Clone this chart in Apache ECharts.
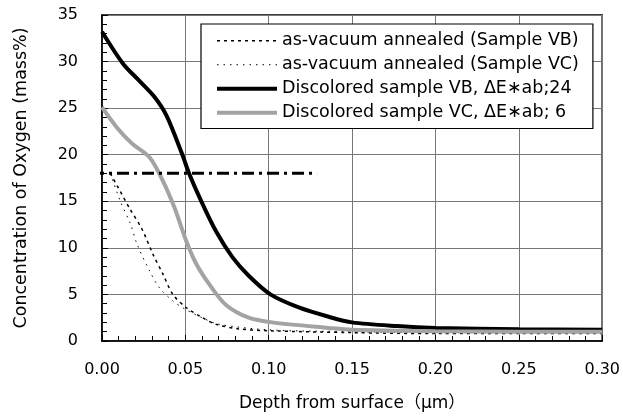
<!DOCTYPE html>
<html>
<head>
<meta charset="utf-8">
<script src="https://cdn.jsdelivr.net/npm/echarts@6/dist/echarts.min.js"></script>
<style>
  html, body { margin: 0; padding: 0; background: #fff; }
  #main { width: 623px; height: 417px; }
</style>
</head>
<body>
<div id="main"></div>
<script>
// depth (um) and oxygen concentration (mass%)
var vbAnnealed = [[0.005,18],[0.0167,14.2],[0.024,12],[0.0306,9.3],[0.0365,7.2],[0.0425,5.0],[0.0504,3.6],[0.0603,2.5],[0.0683,1.8],[0.082,1.3],[0.1,1.1],[0.15,0.9],[0.2,0.8],[0.25,0.8],[0.3,0.8]];
var vcAnnealed = [[0.005,18],[0.011,15],[0.017,12.6],[0.021,10.4],[0.0286,7.5],[0.0345,5.7],[0.0425,4.3],[0.05,3.4],[0.06,2.5],[0.07,1.8],[0.1,1.2],[0.15,1.0],[0.2,0.9],[0.25,0.9],[0.3,0.9]];
var vbDiscolored = [[0,33.2],[0.0125,29.8],[0.022,28],[0.0315,26.2],[0.0387,24.2],[0.048,20.1],[0.052,18.1],[0.0593,15.1],[0.0683,11.8],[0.0782,9.0],[0.088,7.0],[0.101,5.0],[0.118,3.6],[0.136,2.6],[0.15,2.0],[0.177,1.6],[0.2,1.4],[0.25,1.25],[0.3,1.2]];
var vcDiscolored = [[0,25.1],[0.009,22.9],[0.018,21.2],[0.0286,19.7],[0.0365,17.2],[0.0435,14.3],[0.0504,10.8],[0.0565,8.3],[0.0643,6.1],[0.0742,3.9],[0.088,2.5],[0.102,2.0],[0.136,1.4],[0.15,1.2],[0.2,1.05],[0.25,1.0],[0.3,1.0]];
var refLine = [[-0.006,18],[0.129,18]];
var names = ['as-vacuum annealed (Sample VB)','as-vacuum annealed (Sample VC)','Discolored sample VB, \u0394E\u2217ab;24','Discolored sample VC, \u0394E\u2217ab; 6'];
var legendWidths = [1.5, 1, 4, 4];

var chart = echarts.init(document.getElementById('main'));
var font = 'DejaVu Sans, Noto Sans CJK JP, sans-serif';
chart.setOption({
  animation: false,
  grid: { left: 102, right: 16, top: 15, bottom: 76, show: true, borderColor: '#000', borderWidth: 1.5 },
  legend: {
    orient: 'vertical', left: 201, top: 24,
    backgroundColor: '#fff', borderColor: '#000', borderWidth: 1.2,
    padding: [8, 14, 7, 14], itemGap: 6.5, itemWidth: 60, itemHeight: 19,
    itemStyle: { color: 'rgba(0,0,0,0)', borderColor: 'rgba(0,0,0,0)', borderWidth: 0 },
    textStyle: { fontFamily: font, fontSize: 17.5, color: '#000' },
    data: names.map(function (n, i) { return { name: n, lineStyle: { width: legendWidths[i] } }; })
  },
  xAxis: {
    type: 'value', min: 0, max: 0.3, interval: 0.05,
    name: 'Depth from surface\uFF08\u03BCm\uFF09', nameLocation: 'middle', nameGap: 54,
    nameTextStyle: { fontFamily: font, fontSize: 17, color: '#000' },
    axisLine: { lineStyle: { color: '#000', width: 1.5 } },
    axisTick: { show: true, inside: true, length: 6, lineStyle: { color: '#000' } },
    minorTick: { show: true, splitNumber: 5, length: 5, lineStyle: { color: '#000' } },
    axisLabel: { margin: 21, fontFamily: font, fontSize: 16, color: '#000', formatter: function (v) { return v.toFixed(2); } },
    splitLine: { lineStyle: { color: '#777', width: 1 } }
  },
  yAxis: {
    type: 'value', min: 0, max: 35, interval: 5,
    name: 'Concentration of Oxygen (mass%)', nameLocation: 'middle', nameGap: 72,
    nameTextStyle: { fontFamily: font, fontSize: 17.5, color: '#000' },
    axisLine: { show: true, lineStyle: { color: '#000', width: 1.5 } },
    axisTick: { show: true, inside: true, length: 6, lineStyle: { color: '#000' } },
    minorTick: { show: true, splitNumber: 5, length: 5, lineStyle: { color: '#000' } },
    axisLabel: { margin: 24, fontFamily: font, fontSize: 16, color: '#000' },
    splitLine: { lineStyle: { color: '#777', width: 1 } }
  },
  series: [
    { name: names[0], type: 'line', data: vbAnnealed, symbol: 'none', smooth: 0.3,
      lineStyle: { color: '#000', width: 1.5, type: [3, 4] }, itemStyle: { color: '#000' } },
    { name: names[1], type: 'line', data: vcAnnealed, symbol: 'none', smooth: 0.3,
      lineStyle: { color: '#000', width: 1, type: [1.5, 5] }, itemStyle: { color: '#000' } },
    { name: names[2], type: 'line', data: vbDiscolored, symbol: 'none', smooth: 0.3,
      lineStyle: { color: '#000', width: 4 }, itemStyle: { color: '#000' } },
    { name: names[3], type: 'line', data: vcDiscolored, symbol: 'none', smooth: 0.3,
      lineStyle: { color: '#a3a3a3', width: 4 }, itemStyle: { color: '#a3a3a3' } },
    { name: 'ref', type: 'line', data: refLine, symbol: 'none', clip: false,
      lineStyle: { color: '#000', width: 3, type: [12, 5, 3, 5] } }
  ]
});
</script>
</body>
</html>
